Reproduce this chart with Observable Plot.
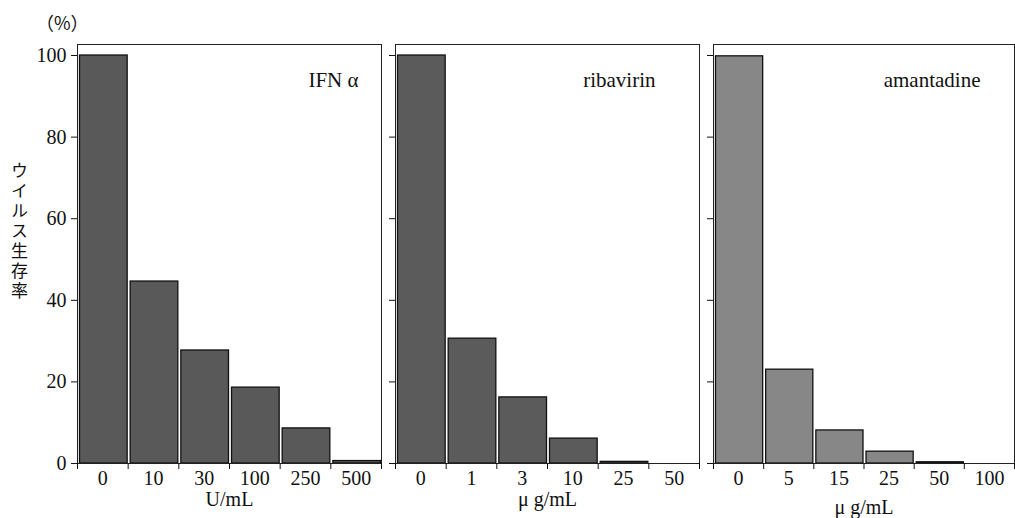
<!DOCTYPE html>
<html>
<head>
<meta charset="utf-8">
<script src="https://cdn.jsdelivr.net/npm/d3@7"></script>
<script src="https://cdn.jsdelivr.net/npm/@observablehq/plot@0.6"></script>
<style>
  html, body { margin: 0; padding: 0; background: #fff; }
  #chart { position: relative; width: 1015px; height: 518px; overflow: hidden; background: #fff; }
  #chart svg { position: absolute; top: 0; }
  .ytitle { position: absolute; left: 11px; top: 162px; writing-mode: vertical-rl; text-orientation: upright;
            font-family: "Noto Sans CJK JP", sans-serif; font-size: 17px; line-height: 17px; letter-spacing: 3px; color: #111; }
  .unit { position: absolute; left: 36px; top: 9px; font-family: "Noto Sans CJK JP", sans-serif; font-size: 18px; color: #111; }
</style>
</head>
<body>
<div id="chart">
  <div class="unit">（%）</div>
  <div class="ytitle">ウイルス生存率</div>
</div>
<script>
// ---- data ----
const ifnDoses = ["0", "10", "30", "100", "250", "500"];
const ifnSurvival = [100, 44.6, 27.7, 18.6, 8.6, 0.6];
const ribaDoses = ["0", "1", "3", "10", "25", "50"];
const ribaSurvival = [100, 30.6, 16.2, 6.1, 0.4, 0];
const amanDoses = ["0", "5", "15", "25", "50", "100"];
const amanSurvival = [99.8, 23.0, 8.1, 2.9, 0.3, 0];
const drugNames = ["IFN α", "ribavirin", "amantadine"];
const unitLabels = ["U/mL", "μ g/mL", "μ g/mL"];
const yTicks = [0, 20, 40, 60, 80, 100];
const yMax = 102.7;

const panels = [
  {doses: ifnDoses, vals: ifnSurvival, name: drugNames[0], unit: unitLabels[0],
   left: 0, width: 385, ml: 77, mr: 4, fill: "#595959", nameDx: -23, showY: true, unitDy: 36},
  {doses: ribaDoses, vals: ribaSurvival, name: drugNames[1], unit: unitLabels[1],
   left: 385, width: 318, ml: 10, mr: 4, fill: "#5b5b5b", nameDx: -44, showY: false, unitDy: 36},
  {doses: amanDoses, vals: amanSurvival, name: drugNames[2], unit: unitLabels[2],
   left: 700, width: 315, ml: 13, mr: 1, fill: "#878787", nameDx: -34, showY: false, unitDy: 44}
];

const chart = document.getElementById("chart");
for (const p of panels) {
  const table = p.doses.map((dose, i) => ({i, dose, v: p.vals[i]}));
  const svg = Plot.plot({
    width: p.width,
    height: 518,
    marginLeft: p.ml,
    marginRight: p.mr,
    marginTop: 44,
    marginBottom: 55,
    style: {fontFamily: "'Liberation Serif', 'Times New Roman', serif", fontSize: "20px", background: "transparent", color: "#111"},
    x: {domain: [0, table.length]},
    y: {domain: [0, yMax]},
    marks: [
      Plot.rectY(table, {x1: "i", x2: d => d.i + 1, y: "v", fill: p.fill, stroke: "#111", strokeWidth: 1.3, insetLeft: 2.5, insetRight: 0.5}),
      Plot.frame({stroke: "#222", strokeWidth: 1}),
      Plot.axisY({ticks: yTicks, tickSize: 6, tickPadding: 5, tickFormat: p.showY ? (d => d) : (() => ""), label: null}),
      Plot.axisX({ticks: d3.range(table.length + 1), tickSize: 6, tickFormat: () => "", label: null}),
      Plot.axisX({ticks: table.map(d => d.i + 0.5), tickSize: 0, tickPadding: 7, tickFormat: t => p.doses[Math.round(t - 0.5)], label: null}),
      Plot.text([p.unit], {text: d => d, frameAnchor: "bottom", dy: p.unitDy, lineAnchor: "middle", fontSize: 20}),
      Plot.text([p.name], {text: d => d, frameAnchor: "top-right", dx: p.nameDx, dy: 36, lineAnchor: "middle", fontSize: 21})
    ]
  });
  svg.style.left = p.left + "px";
  chart.appendChild(svg);
}
</script>
</body>
</html>
